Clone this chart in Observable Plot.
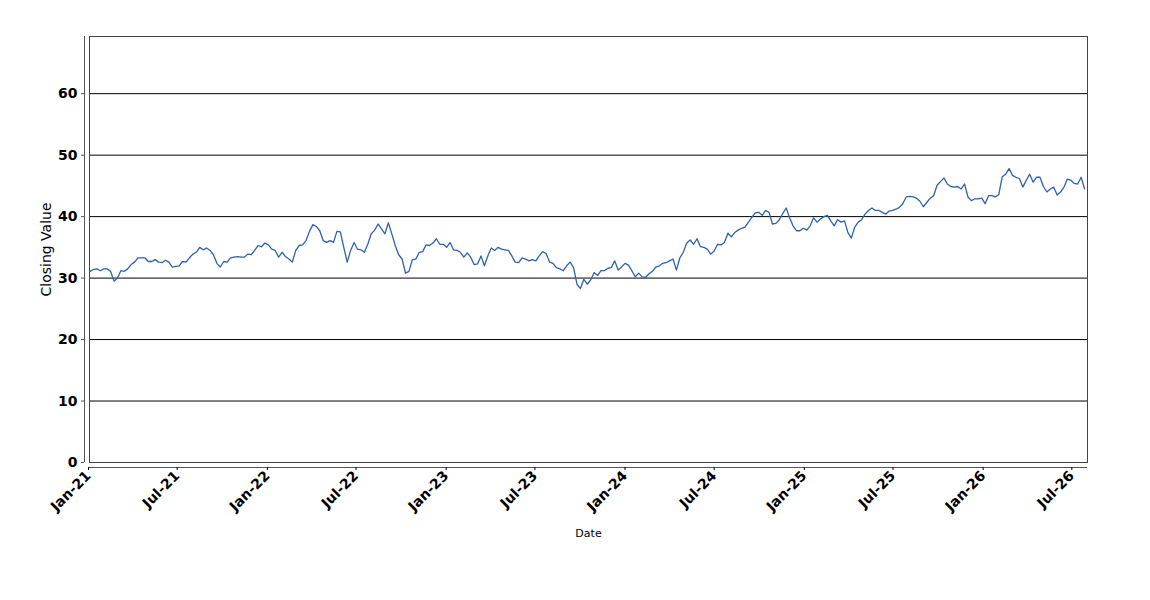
<!DOCTYPE html>
<html>
<head>
<meta charset="utf-8">
<script src="https://cdn.jsdelivr.net/npm/d3@7"></script>
<script src="https://cdn.jsdelivr.net/npm/@observablehq/plot@0.6"></script>
<style>
  html, body { margin: 0; padding: 0; background: #fff; }
  #chart { width: 1150px; height: 600px; }
</style>
</head>
<body>
<div id="chart"></div>
<script>
// Weekly closing values (one per week, starting 2021-01-04)
const firstWeek = "2021-01-04";
const close2021 = [
  31.1, 31.4, 31.5, 31.2, 31.5, 31.5, 31.1, 29.5, 30.0, 31.2,
  31.1, 31.5, 32.2, 32.6, 33.3, 33.3, 33.3, 32.7, 32.7, 33.0,
  32.6, 32.5, 32.9, 32.6, 31.8, 31.9, 32.0, 32.7, 32.6, 33.3,
  33.9, 34.2, 35.0, 34.6, 34.9, 34.5, 33.8, 32.4, 31.8, 32.7,
  32.6, 33.3, 33.4, 33.5, 33.4, 33.4, 33.9, 33.8, 34.5
];
const close2022 = [
  35.3, 35.1, 35.7, 35.4, 34.7, 34.5, 33.4, 34.2, 33.5, 33.1,
  32.6, 34.5, 35.3, 35.4, 36.1, 37.6, 38.7, 38.4, 37.7, 36.1,
  35.8, 36.1, 35.8, 37.6, 37.5, 35.0, 32.6, 34.5, 35.8, 34.7,
  34.6, 34.2, 35.5, 37.2, 37.8, 38.8, 38.0, 37.2, 39.0, 37.2,
  35.3, 33.8, 33.1, 30.8, 31.1, 33.0, 33.1, 34.2, 34.3
];
const close2023 = [
  35.4, 35.3, 35.7, 36.4, 35.5, 35.5, 35.0, 35.8, 34.6, 34.5,
  34.2, 33.4, 34.1, 33.4, 32.2, 32.3, 33.6, 32.0, 33.6, 34.9,
  34.5, 35.0, 34.7, 34.6, 34.5, 33.6, 32.6, 32.5, 33.3, 33.1,
  32.8, 33.0, 32.8, 33.6, 34.3, 34.0, 32.6, 32.4, 31.7, 31.5,
  31.2, 32.0, 32.6, 31.7, 29.0, 28.3, 29.8, 29.0, 29.7, 30.9
];
const close2024 = [
  30.4, 31.2, 31.2, 31.6, 31.7, 32.8, 31.3, 31.8, 32.4, 32.1,
  31.2, 30.2, 30.8, 30.2, 30.1, 30.7, 31.1, 31.8, 32.0, 32.4,
  32.5, 32.8, 33.1, 31.3, 33.3, 34.2, 35.7, 36.2, 35.5, 36.4,
  35.1, 35.0, 34.7, 33.9, 34.4, 35.5, 35.4, 35.8, 37.3, 36.7,
  37.4, 37.8, 38.1, 38.3, 39.1, 39.9, 40.6, 40.7, 40.2
];
const close2025 = [
  41.0, 40.7, 38.8, 38.9, 39.5, 40.5, 41.4, 39.8, 38.5, 37.7,
  37.7, 38.1, 37.8, 38.5, 39.8, 39.1, 39.6, 40.0, 40.2, 39.3,
  38.5, 39.5, 39.1, 39.3, 37.4, 36.5, 38.3, 39.1, 39.5, 40.4,
  41.0, 41.4, 41.0, 41.0, 40.7, 40.4, 40.9, 41.0, 41.2, 41.5,
  42.1, 43.2, 43.3, 43.2, 43.0, 42.5, 41.6, 42.3, 43.0, 43.4
];
const close2026 = [
  45.1, 45.7, 46.3, 45.3, 44.9, 44.8, 44.9, 44.5, 45.3, 43.2,
  42.6, 42.9, 42.9, 43.0, 42.1, 43.4, 43.4, 43.2, 43.6, 46.5,
  46.9, 47.8, 46.7, 46.4, 46.2, 44.8, 45.9, 46.9, 45.6, 46.4,
  46.4, 44.9, 44.0, 44.5, 44.8, 43.5, 44.0, 44.8, 46.1, 45.9,
  45.4, 45.3, 46.4, 44.5
];

const yTicks = [0, 10, 20, 30, 40, 50, 60];
const gridValues = [10, 20, 30, 40, 50, 60];
const xTickLabels = ["2021-01-01", "2021-07-01", "2022-01-01", "2022-07-01", "2023-01-01", "2023-07-01",
  "2024-01-01", "2024-07-01", "2025-01-01", "2025-07-01", "2026-01-01", "2026-07-01"];
const xDomain = ["2021-01-03", "2026-08-02"];
const yDomain = [0, 69.3];
const xTitle = "Date";
const yTitle = "Closing Value";

const closes = [...close2021, ...close2022, ...close2023, ...close2024, ...close2025, ...close2026];
const start = new Date(firstWeek);
const data = closes.map((v, i) => ({date: d3.utcDay.offset(start, 7 * i), close: v}));
const xTicks = xTickLabels.map(s => new Date(s));
const xDom = xDomain.map(s => new Date(s));

const chart = Plot.plot({
  width: 1150,
  height: 600,
  marginLeft: 89,
  marginRight: 63,
  marginTop: 36,
  marginBottom: 138,
  style: {fontFamily: "'DejaVu Sans', sans-serif", background: "#fff", color: "#000"},
  x: {type: "utc", domain: xDom},
  y: {domain: yDomain},
  marks: [
    Plot.gridY(gridValues, {stroke: "#000", strokeOpacity: 1, strokeWidth: 1}),
    Plot.frame({stroke: "#444"}),
    Plot.ruleX([xDom[0]], {dx: -5, stroke: "#555"}),
    Plot.ruleY([0], {dy: 5, stroke: "#555"}),
    Plot.axisY(yTicks, {tickSize: 3, dx: -5, tickPadding: 4, fontSize: 14, fontWeight: "bold", label: null, stroke: "#555"}),
    Plot.axisX(xTicks, {tickFormat: d3.utcFormat("%b-%y"), tickRotate: -45, dy: 5, tickSize: 3, tickPadding: 3,
      fontSize: 14, fontWeight: "bold", label: null}),
    Plot.lineY(data, {x: "date", y: "close", stroke: "#2d62b0", strokeWidth: 1.3}),
    Plot.text([xTitle], {frameAnchor: "bottom", dy: 74, fontSize: 11}),
    Plot.text([yTitle], {frameAnchor: "left", textAnchor: "middle", rotate: -90, dx: -43, fontSize: 14})
  ]
});
document.getElementById("chart").appendChild(chart);
</script>
</body>
</html>
